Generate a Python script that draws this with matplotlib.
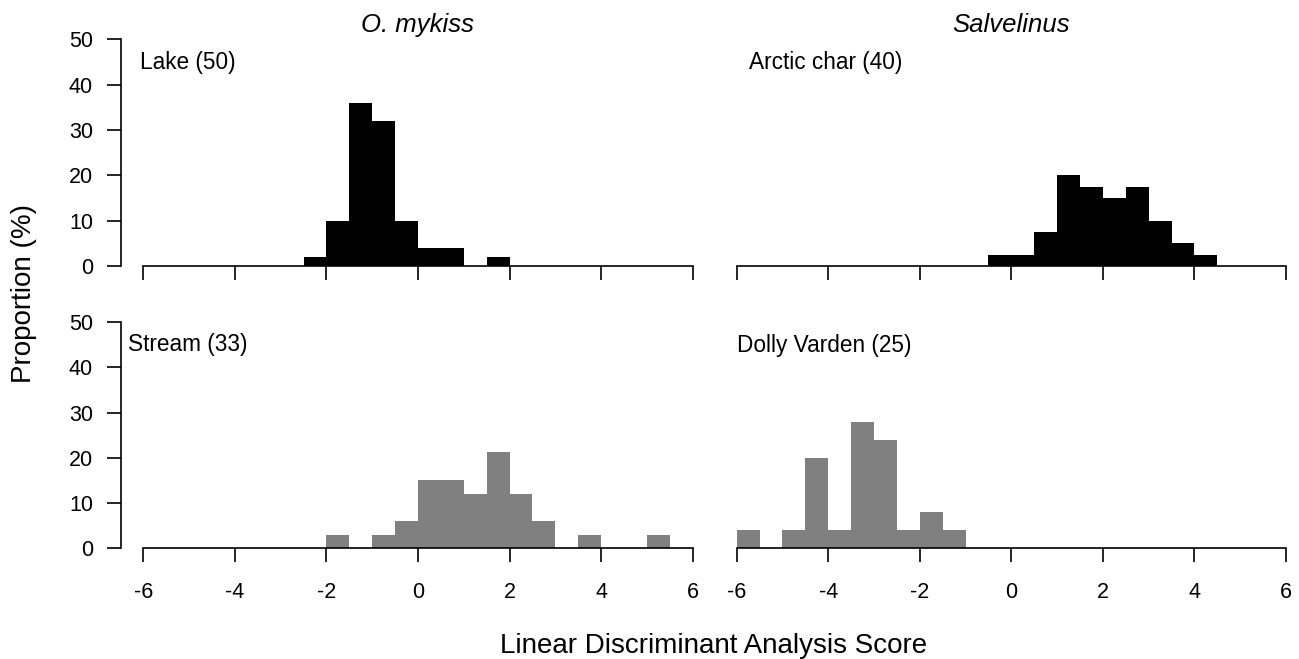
import matplotlib
matplotlib.use("Agg")
import matplotlib.pyplot as plt

plt.rcParams['font.family'] = ['Liberation Sans', 'DejaVu Sans']
plt.rcParams['axes.unicode_minus'] = False

# bin left edges (width 0.5) and heights in percent
lake_x = [-2.5, -2.0, -1.5, -1.0, -0.5, 0.0, 0.5, 1.5]
lake_pct = [2, 10, 36, 32, 10, 4, 4, 2]

char_x = [-0.5, 0.0, 0.5, 1.0, 1.5, 2.0, 2.5, 3.0, 3.5, 4.0]
char_pct = [2.5, 2.5, 7.5, 20, 17.5, 15, 17.5, 10, 5, 2.5]

stream_x = [-2.0, -1.0, -0.5, 0.0, 0.5, 1.0, 1.5, 2.0, 2.5, 3.5, 5.0]
stream_pct = [3.0, 3.0, 6.1, 15.2, 15.2, 12.1, 21.2, 12.1, 6.1, 3.0, 3.0]

dolly_x = [-6.0, -5.0, -4.5, -4.0, -3.5, -3.0, -2.5, -2.0, -1.5]
dolly_pct = [4, 4, 20, 4, 28, 24, 4, 8, 4]

panel_labels = ["Lake (50)", "Arctic char (40)", "Stream (33)", "Dolly Varden (25)"]
xticks = [-6, -4, -2, 0, 2, 4, 6]
yticks = [0, 10, 20, 30, 40, 50]

W, H = 1299, 659
fig = plt.figure(figsize=(W / 100, H / 100), dpi=100)

def px_axes(x0, x1, ytop, ybot):
    return fig.add_axes([x0 / W, 1 - ybot / H, (x1 - x0) / W, (ybot - ytop) / H])

ax_tl = px_axes(143.3, 692.7, 39.3, 266.0)
ax_tr = px_axes(736.7, 1286.0, 39.3, 266.0)
ax_bl = px_axes(143.3, 692.7, 322.3, 548.3)
ax_br = px_axes(736.7, 1286.0, 322.3, 548.3)

panels = [
    (ax_tl, lake_x, lake_pct, 'black', panel_labels[0], -6.07, 43.4, True),
    (ax_tr, char_x, char_pct, 'black', panel_labels[1], -5.73, 43.4, False),
    (ax_bl, stream_x, stream_pct, '#808080', panel_labels[2], -6.33, 43.6, True),
    (ax_br, dolly_x, dolly_pct, '#808080', panel_labels[3], -6.0, 43.5, False),
]

for ax, x, h, col, lab, tx, ty, show_y in panels:
    ax.bar(x, h, width=0.5, align='edge', color=col, linewidth=0)
    ax.set_xlim(-6, 6)
    ax.set_ylim(0, 50)
    ax.spines['top'].set_visible(False)
    ax.spines['right'].set_visible(False)
    ax.spines['bottom'].set_bounds(-6, 6)
    ax.spines['bottom'].set_linewidth(1.2)
    ax.set_xticks(xticks)
    ax.tick_params(axis='x', direction='out', length=10, width=1.2, pad=14,
                   labelsize=15.5)
    ax.text(tx, ty, lab, fontsize=16.3, ha='left', va='baseline')
    if show_y:
        ax.spines['left'].set_position(('outward', 15.8))
        ax.spines['left'].set_bounds(0, 50)
        ax.spines['left'].set_linewidth(1.2)
        ax.set_yticks(yticks)
        ax.tick_params(axis='y', direction='out', length=10, width=1.2, pad=10.5,
                       labelsize=15.5)
    else:
        ax.spines['left'].set_visible(False)
        ax.set_yticks([])
    # bottom row shows tick labels, top row only the ticks
    if ax in (ax_tl, ax_tr):
        ax.tick_params(axis='x', labelbottom=False)
    for side in ['bottom', 'left']:
        ax.spines[side].set_clip_on(False)

fig.text(418 / W, 1 - 32 / H, "O. mykiss", fontsize=18.5, style='italic',
         ha='center', va='baseline')
fig.text(1011 / W, 1 - 32 / H, "Salvelinus", fontsize=18.5, style='italic',
         ha='center', va='baseline')
fig.text(24 / W, 1 - 294 / H, "Proportion (%)", fontsize=20, rotation=90,
         ha='center', va='center')
fig.text(714 / W, 1 - 653 / H, "Linear Discriminant Analysis Score", fontsize=20,
         ha='center', va='baseline')

fig.savefig("out.png", dpi=100)
